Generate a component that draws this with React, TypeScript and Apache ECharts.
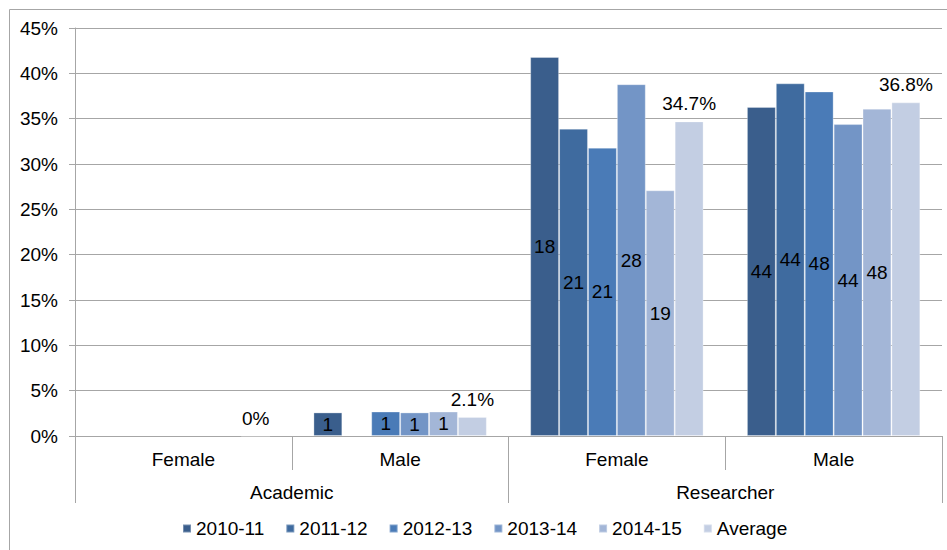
import React, { useEffect, useRef } from "react";
import * as echarts from "echarts";

const categories = ["Female", "Male", "Female", "Male"];
const groups = ["Academic", "Researcher"];
const seriesNames = ["2010-11", "2011-12", "2012-13", "2013-14", "2014-15", "Average"];
const colors = ["#3A5E8C", "#3F6B9F", "#4A7BB7", "#7395C6", "#A3B6D7", "#C3CEE3"];

const v2010 = [null, 2.6, 41.8, 36.3];
const v2011 = [null, null, 33.9, 38.9];
const v2012 = [null, 2.7, 31.8, 38.0];
const v2013 = [null, 2.6, 38.8, 34.4];
const v2014 = [null, 2.7, 27.1, 36.1];
const vAvg = [0, 2.1, 34.7, 36.8];

const c2010 = [null, 1, 18, 44];
const c2011 = [null, null, 21, 44];
const c2012 = [null, 1, 21, 48];
const c2013 = [null, 1, 28, 44];
const c2014 = [null, 1, 19, 48];

const yTicks = { min: 0, max: 45, interval: 5 };

const FONT = "Liberation Sans, Arial, sans-serif";
const GREY = "#A6A6A6";
const FS = 19;

export default function App() {
  const ref = useRef<HTMLDivElement>(null);
  useEffect(() => {
    if (!ref.current) return;
    document.body.style.margin = "0";
    const chart = echarts.init(ref.current, null, { renderer: "svg" });
    const values = [v2010, v2011, v2012, v2013, v2014];
    const counts = [c2010, c2011, c2012, c2013, c2014];
    const series: any[] = values.map((vals, i) => ({
      name: seriesNames[i],
      type: "bar",
      xAxisIndex: 0,
      data: vals,
      barGap: "0%",
      barCategoryGap: "20%",
      itemStyle: { color: colors[i], borderColor: "rgba(255,255,255,0.3)", borderWidth: 1 },
      label: {
        show: true,
        position: "inside",
        color: "#000",
        fontSize: FS,
        fontFamily: FONT,
        formatter: (p: any) => {
          const c = counts[i][p.dataIndex];
          return c == null ? "" : String(c);
        },
      },
    }));
    series.push({
      name: seriesNames[5],
      type: "bar",
      xAxisIndex: 0,
      data: vAvg,
      barGap: "0%",
      barCategoryGap: "20%",
      itemStyle: { color: colors[5], borderColor: "rgba(255,255,255,0.3)", borderWidth: 1 },
      label: {
        show: true,
        position: "top",
        distance: 8,
        color: "#000",
        fontSize: FS,
        fontFamily: FONT,
        formatter: (p: any) => (p.value === 0 ? "0%" : p.value.toFixed(1) + "%"),
      },
    });
    chart.setOption({
      animation: false,
      textStyle: { fontFamily: FONT },
      graphic: [
        {
          type: "rect",
          shape: { x: 9.5, y: 9.5, width: 1000, height: 1000 },
          style: { fill: "none", stroke: GREY, lineWidth: 1 },
          silent: true,
        },
      ],
      grid: { left: 75, right: 5, top: 28, bottom: 114, containLabel: false },
      legend: {
        data: seriesNames,
        left: 177,
        top: 514,
        icon: "rect",
        itemWidth: 8,
        itemHeight: 8,
        itemGap: 21,
        textStyle: { fontSize: FS, color: "#000", fontFamily: FONT },
      },
      xAxis: [
        {
          type: "category",
          data: categories,
          position: "bottom",
          axisLine: { show: true, lineStyle: { color: GREY, width: 1 } },
          axisTick: { show: true, alignWithLabel: false, length: 34, lineStyle: { color: GREY } },
          axisLabel: { margin: 14, fontSize: FS, color: "#000", fontFamily: FONT },
        },
        {
          type: "category",
          data: groups,
          position: "bottom",
          axisLine: { show: false },
          axisTick: { show: true, alignWithLabel: false, length: 67, lineStyle: { color: GREY } },
          axisLabel: { margin: 47, fontSize: FS, color: "#000", fontFamily: FONT },
        },
      ],
      yAxis: {
        type: "value",
        min: yTicks.min,
        max: yTicks.max,
        interval: yTicks.interval,
        axisLine: { show: true, lineStyle: { color: GREY } },
        axisTick: { show: true, length: 6, lineStyle: { color: GREY } },
        splitLine: { show: true, lineStyle: { color: GREY, width: 1 } },
        axisLabel: { formatter: "{value}%", margin: 17, fontSize: FS, color: "#000", fontFamily: FONT },
      },
      series,
    });
    return () => chart.dispose();
  }, []);
  return (
    <div
      ref={ref}
      style={{ position: "absolute", left: 0, top: 0, width: 947, height: 550, background: "#fff" }}
    />
  );
}
